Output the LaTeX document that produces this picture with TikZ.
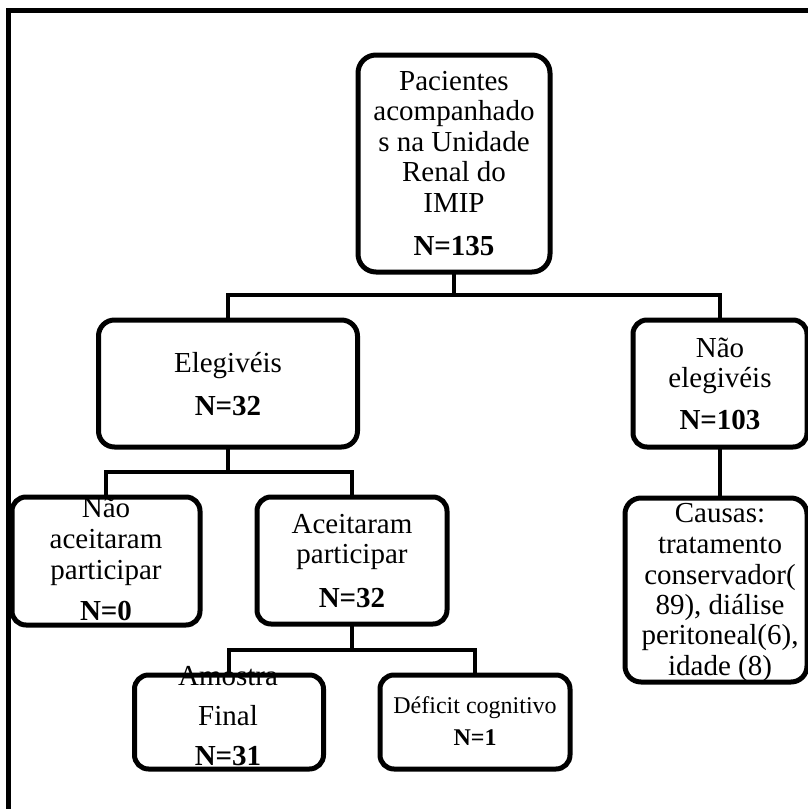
\documentclass[tikz,border=0pt]{standalone}
\usepackage{fontspec}
\setmainfont{Liberation Serif}
\begin{document}
\begin{tikzpicture}[x=1pt,y=-1pt,
  box/.style={draw, line width=5pt, rounded corners=14pt, inner sep=0pt, outer sep=0pt},
  conn/.style={draw, line width=4.5pt, line join=miter},
  txt/.style={inner sep=0pt, anchor=base, font=\fontsize{29}{30.5}\selectfont},
  ntxt/.style={inner sep=0pt, anchor=base, font=\fontsize{29}{30.5}\selectfont\bfseries},
  stxt/.style={inner sep=0pt, anchor=base, font=\fontsize{24}{26}\selectfont},
  sntxt/.style={inner sep=0pt, anchor=base, font=\fontsize{24}{26}\selectfont\bfseries}]
\useasboundingbox (0,0) rectangle (808,809);
\begin{scope}
\clip (0,0) rectangle (808,809);
\draw[line width=5.5pt] (8.5,900) -- (8.5,10.5) -- (900,10.5);
\end{scope}
% boxes
\node[box, rounded corners=18pt, minimum width=192pt, minimum height=217pt] (top) at (454,163.5) {};
\node[box, rounded corners=16pt, minimum width=259pt, minimum height=127pt] (eleg) at (228,383.5) {};
\node[box, minimum width=174pt, minimum height=127pt] (nelg) at (720,383.5) {};
\node[box, minimum width=188pt, minimum height=128pt] (nao) at (106,561) {};
\node[box, minimum width=190pt, minimum height=127pt] (aceit) at (352,560.5) {};
\node[box, rounded corners=16pt, minimum width=182pt, minimum height=184pt] (causas) at (716,590) {};
\node[box, minimum width=189pt, minimum height=94pt] (amostra) at (229,722) {};
\node[box, minimum width=190pt, minimum height=94pt] (deficit) at (475,722) {};
% connectors
\coordinate (j1) at (454,295);
\coordinate (j2) at (228,472);
\coordinate (j3) at (352,650);
\draw[conn] (top.south) -- (j1);
\draw[conn] (eleg.north) |- (j1) -| (nelg.north);
\draw[conn] (eleg.south) -- (j2);
\draw[conn] (nao.north) |- (j2) -| (aceit.north);
\draw[conn] (aceit.south) -- (j3);
\draw[conn] (amostra.north) |- (j3) -| (deficit.north);
\draw[conn] (nelg.south) -- (nelg.south |- causas.north);
% texts
\node[txt] (t1) at (454,90) {Pacientes};
\node[txt] (t2) at (454,120.5) {acompanhado};
\node[txt] (t3) at (454,151) {s na Unidade};
\node[txt] (t4) at (454,181.5) {Renal do};
\node[txt] (t5) at (454,212) {IMIP};
\node[ntxt] (t6) at (454,255) {N=135};
\node[txt] (e1) at (228,372) {Elegivéis};
\node[ntxt] (e2) at (228,415) {N=32};
\node[txt] (n1) at (720,357) {Não};
\node[txt] (n2) at (720,387) {elegivéis};
\node[ntxt] (n3) at (720,429) {N=103};
\node[txt] (a1) at (106,517) {Não};
\node[txt] (a2) at (106,548) {aceitaram};
\node[txt] (a3) at (106,579) {participar};
\node[ntxt] (a4) at (106,620) {N=0};
\node[txt] (b1) at (352,533) {Aceitaram};
\node[txt] (b2) at (352,563) {participar};
\node[ntxt] (b3) at (352,607) {N=32};
\node[txt] (c1) at (720,522) {Causas:};
\node[txt] (c2) at (720,553) {tratamento};
\node[txt] (c3) at (720,584) {conservador(};
\node[txt] (c4) at (720,614) {89), diálise};
\node[txt] (c5) at (720,644) {peritoneal(6),};
\node[txt] (c6) at (720,675) {idade (8)};
\node[txt] (m1) at (228,685) {Amostra};
\node[txt] (m2) at (228,725) {Final};
\node[ntxt] (m3) at (228,765) {N=31};
\node[stxt] (d1) at (475,713) {Déficit cognitivo};
\node[sntxt] (d2) at (475,745) {N=1};
\end{tikzpicture}
\end{document}
